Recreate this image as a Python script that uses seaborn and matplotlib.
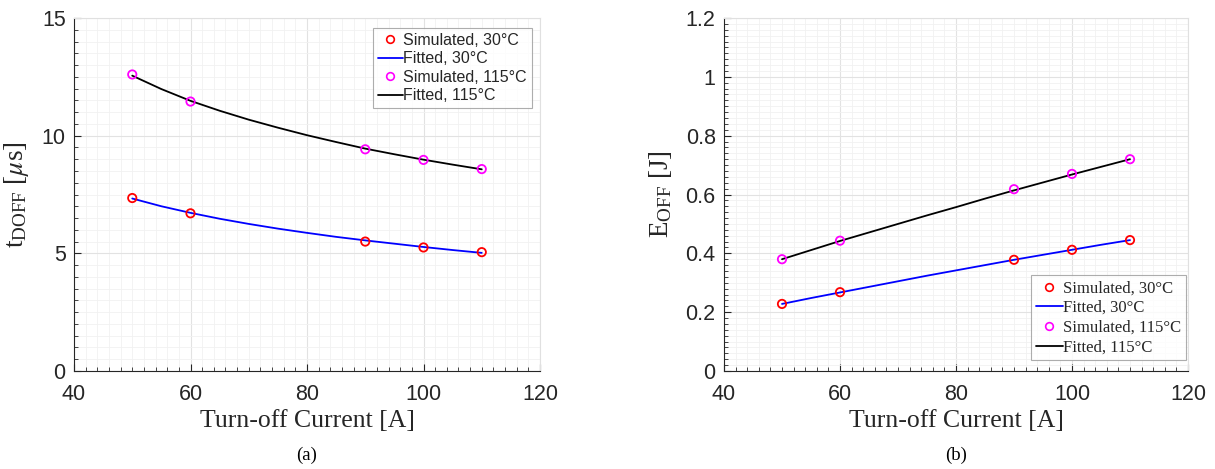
import matplotlib
matplotlib.use("Agg")
import matplotlib.pyplot as plt
import seaborn as sns
import pandas as pd
from matplotlib.ticker import MultipleLocator

# ---- data ----
current_sim = [50, 60, 90, 100, 110]
t_sim_30 = [7.35, 6.7, 5.5, 5.25, 5.05]
t_sim_115 = [12.6, 11.45, 9.42, 8.97, 8.58]
e_sim_30 = [0.228, 0.268, 0.378, 0.412, 0.445]
e_sim_115 = [0.380, 0.443, 0.618, 0.670, 0.720]

current_fit = [50, 55, 60, 65, 70, 75, 80, 85, 90, 95, 100, 105, 110]
t_fit_30 = [7.33, 7.0, 6.72, 6.47, 6.25, 6.05, 5.87, 5.70, 5.55, 5.41, 5.27, 5.14, 5.02]
t_fit_115 = [12.55, 11.98, 11.48, 11.06, 10.68, 10.34, 10.02, 9.73, 9.45, 9.21, 8.98, 8.77, 8.57]
e_fit_30 = [0.228, 0.248, 0.267, 0.286, 0.305, 0.324, 0.342, 0.360, 0.378, 0.395, 0.412, 0.429, 0.445]
e_fit_115 = [0.380, 0.411, 0.442, 0.471, 0.500, 0.529, 0.557, 0.586, 0.614, 0.641, 0.668, 0.694, 0.720]

legend_labels = ["Simulated, 30°C", "Fitted, 30°C", "Simulated, 115°C", "Fitted, 115°C"]
panel_labels = ["(a)", "(b)"]

sns.set_theme(style="white")
plt.rcParams["mathtext.fontset"] = "stix"

fig = plt.figure(figsize=(12.15, 4.69), dpi=100)
W, H = 1215, 469
ax1 = fig.add_axes([74 / W, 1 - 371 / H, (540 - 74) / W, (371 - 18) / H])
ax2 = fig.add_axes([724 / W, 1 - 371 / H, (1188 - 724) / W, (371 - 18) / H])

def draw(ax, ysim30, yfit30, ysim115, yfit115, legend_font, legend_loc, bbox):
    sim30 = pd.DataFrame({"x": current_sim, "y": ysim30})
    sim115 = pd.DataFrame({"x": current_sim, "y": ysim115})
    fit30 = pd.DataFrame({"x": current_fit, "y": yfit30})
    fit115 = pd.DataFrame({"x": current_fit, "y": yfit115})
    h1, = ax.plot([], [], "o", mfc="none", mec="#ff0000", mew=1.2, ms=5.5, label=legend_labels[0])
    sns.lineplot(data=fit30, x="x", y="y", ax=ax, color="#0000ff", lw=1.3, zorder=3)
    sns.lineplot(data=fit115, x="x", y="y", ax=ax, color="black", lw=1.3, zorder=3)
    sns.scatterplot(data=sim30, x="x", y="y", ax=ax, marker="o", s=36, facecolor="none",
                    edgecolor="#ff0000", linewidth=1.3, zorder=4)
    sns.scatterplot(data=sim115, x="x", y="y", ax=ax, marker="o", s=36, facecolor="none",
                    edgecolor="#ff00ff", linewidth=1.3, zorder=4)
    h2, = ax.plot([], [], "-", color="#0000ff", lw=1.3, label=legend_labels[1])
    h3, = ax.plot([], [], "o", mfc="none", mec="#ff00ff", mew=1.2, ms=5.5, label=legend_labels[2])
    h4, = ax.plot([], [], "-", color="black", lw=1.3, label=legend_labels[3])
    leg = ax.legend(handles=[h1, h2, h3, h4], loc=legend_loc, bbox_to_anchor=bbox,
                    prop=legend_font, frameon=True, fancybox=False, handlelength=1.6,
                    handletextpad=0.0, borderpad=0.3, labelspacing=0.22, borderaxespad=0.0)
    leg.get_frame().set_edgecolor("#999999")
    leg.get_frame().set_linewidth(0.8)

    ax.set_xlim(40, 120)
    ax.xaxis.set_major_locator(MultipleLocator(20))
    ax.xaxis.set_minor_locator(MultipleLocator(2))
    ax.grid(True, which="major", color="#e2e2e2", lw=0.8)
    ax.grid(True, which="minor", color="#f1f1f1", lw=0.6)
    ax.set_axisbelow(True)
    for s in ["left", "bottom"]:
        ax.spines[s].set_color("#262626")
        ax.spines[s].set_linewidth(0.8)
    for s in ["top", "right"]:
        ax.spines[s].set_color("#e0e0e0")
        ax.spines[s].set_linewidth(0.8)
    ax.tick_params(which="both", direction="in", top=False, right=False, color="#262626")
    ax.tick_params(which="major", length=5, width=0.8, labelsize=15.5)
    ax.tick_params(axis="x", which="major", pad=9)
    ax.tick_params(axis="y", which="major", pad=6)
    ax.tick_params(which="minor", length=3, width=0.6)
    ax.tick_params(axis="both", which="both", left=True, bottom=True)
    for lab in ax.get_xticklabels() + ax.get_yticklabels():
        lab.set_fontfamily("Liberation Sans")
        lab.set_color("#262626")
    ax.set_xlabel("Turn-off Current [A]", fontfamily="Liberation Serif", fontsize=18.5,
                  color="#262626", labelpad=4)

sans_font = {"family": "Liberation Sans", "size": 11.5}
serif_font = {"family": "Liberation Serif", "size": 12}

draw(ax1, t_sim_30, t_fit_30, t_sim_115, t_fit_115, sans_font, "upper right", (0.982, 0.972))
ax1.set_ylim(0, 15)
ax1.yaxis.set_major_locator(MultipleLocator(5))
ax1.yaxis.set_minor_locator(MultipleLocator(0.5))
for lab in ax1.get_yticklabels():
    lab.set_fontfamily("Liberation Sans")
ax1.set_ylabel(r"$\mathregular{t_{DOFF}}$ [$\mu$s]", fontfamily="Liberation Serif",
               fontsize=19.5, color="#262626", labelpad=8)

draw(ax2, e_sim_30, e_fit_30, e_sim_115, e_fit_115, serif_font, "lower right", (0.995, 0.03))
ax2.set_ylim(0, 1.2)
ax2.yaxis.set_minor_locator(MultipleLocator(0.02))
ax2.set_yticks([0, 0.2, 0.4, 0.6, 0.8, 1.0, 1.2])
ax2.set_yticklabels(["0", "0.2", "0.4", "0.6", "0.8", "1", "1.2"], fontfamily="Liberation Sans",
                    color="#262626")
ax2.set_ylabel(r"$\mathregular{E_{OFF}}$ [J]", fontfamily="Liberation Serif",
               fontsize=19.5, color="#262626", labelpad=8)

for ax, lab in zip([ax1, ax2], panel_labels):
    pos = ax.get_position()
    fig.text((pos.x0 + pos.x1) / 2, 1 - 455 / H, lab, ha="center", va="center",
             fontfamily="Liberation Serif", fontsize=13.5, color="black")

fig.savefig("out.png", dpi=100, facecolor="white")
